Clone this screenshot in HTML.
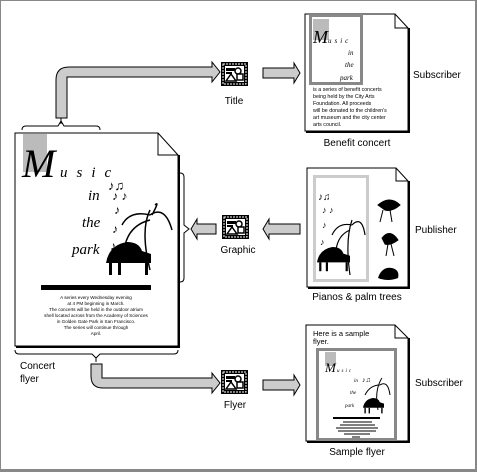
<!DOCTYPE html>
<html><head><meta charset="utf-8"><style>
html,body{margin:0;padding:0;background:#fff}
svg{display:block}
text{font-family:"Liberation Sans",sans-serif;fill:#000}
text.s{font-family:"Liberation Serif",serif;font-style:italic}
</style></head><body>
<svg width="477" height="472" viewBox="0 0 477 472" xmlns="http://www.w3.org/2000/svg">
<defs>
<g id="icon">
<rect x="0" y="0" width="27" height="24" fill="#000"/>
<rect x="2" y="2" width="23" height="20" fill="none" stroke="#fff" stroke-width="1" stroke-dasharray="2 1"/>
<rect x="4" y="4" width="19" height="16" fill="#fff"/>
<rect x="5" y="6" width="9" height="3" fill="#000"/>
<rect x="5" y="10" width="6" height="2" fill="#000"/>
<path d="M5 19 L10 12 L15 19 Z" fill="none" stroke="#000" stroke-width="1.5"/>
<circle cx="17" cy="9" r="3" fill="#fff" stroke="#000" stroke-width="1.5"/>
<rect x="16" y="12" width="6" height="6" fill="#fff" stroke="#000" stroke-width="1.5"/>
</g>
<g id="piano">
<path d="M0 14 Q2 2 14 0 Q22 0 24 6 L30 8 L30 14 Z" fill="#000"/>
<rect x="2" y="14" width="2" height="8" fill="#000"/><rect x="8" y="14" width="2" height="8" fill="#000"/><rect x="26" y="14" width="2" height="8" fill="#000"/>
</g>
</defs>
<rect x="0.5" y="0.5" width="475" height="469" fill="#fff" stroke="#888" stroke-width="1"/>
<line x1="476" y1="0" x2="476" y2="472" stroke="#888" stroke-width="2"/>
<line x1="0" y1="471" x2="477" y2="471" stroke="#888" stroke-width="2"/>

<!-- top arrow -->
<path d="M56 118 L56 80 Q56 67 69 67 L212 67 L212 62 L220 72 L212 82 L212 77 L67 77 L67 118 Z" fill="#ccc" stroke="#000" stroke-width="1"/>
<path d="M22 130 Q22 126 26 126 L58 126 L61 121 L64 126 L96 126 Q100 126 100 130" fill="none" stroke="#000" stroke-width="1"/>
<line x1="61" y1="118" x2="61" y2="124" stroke="#000"/>

<!-- main doc -->
<path d="M15 133 L158 133 L178 155 L178 346 L15 346 Z" fill="#fff" stroke="#000" stroke-width="1"/>
<line x1="179" y1="155" x2="179" y2="347" stroke="#000" stroke-width="2"/>
<line x1="16" y1="347" x2="180" y2="347" stroke="#000" stroke-width="2"/>
<path d="M158 133 L158 155 L178 155" fill="none" stroke="#000"/>
<rect x="23" y="134" width="24" height="38" fill="#bbb"/>
<text class="s" x="22" y="177" font-size="40">M</text>
<text class="s" x="60" y="177" font-size="15" letter-spacing="9">usic</text>
<text class="s" x="88" y="200" font-size="15">in</text>
<text class="s" x="82" y="227" font-size="15">the</text>
<text class="s" x="72" y="254" font-size="15">park</text>
<text x="108" y="190" font-size="13">♪♫</text><text x="112" y="200" font-size="12">♪ ♪</text><text x="114" y="214" font-size="12">♪</text><text x="112" y="233" font-size="12">♪</text><text x="110" y="250" font-size="12">♪</text>
<path d="M150 270 Q140 230 150 210 M150 215 Q130 210 122 225 M150 215 Q165 205 172 230 M150 220 Q130 225 125 245 M152 215 Q160 200 155 205" fill="none" stroke="#000" stroke-width="1.5"/>
<use href="#piano" transform="translate(106 242) scale(1.5)"/>
<rect x="41" y="285" width="110" height="5" fill="#000"/>
<g font-size="4.6" text-anchor="middle">
<text x="96" y="299">A series every Wednesday evening</text>
<text x="96" y="305">at 4 PM beginning in March.</text>
<text x="96" y="311">The concerts will be held in the outdoor atrium</text>
<text x="96" y="317">shell located across from the Academy of Sciences</text>
<text x="96" y="323">in Golden Gate Park in San Francisco.</text>
<text x="96" y="329">The series will continue through</text>
<text x="96" y="335">April.</text>
</g>
<path d="M15 350 Q15 354 19 354 L92 354 L96 358 L100 354 L174 354 Q178 354 178 350" fill="none" stroke="#000"/>
<line x1="96" y1="358" x2="96" y2="362" stroke="#000"/>
<text x="20" y="369" font-size="10">Concert</text>
<text x="20" y="382" font-size="10">flyer</text>

<!-- right bracket -->
<path d="M180 173 Q184 173 184 177 L184 225 L189 229 L184 233 L184 278 Q184 282 180 282" fill="none" stroke="#000"/>

<!-- bottom arrow -->
<path d="M91 364 L91 376 Q91 388 103 388 L212 388 L212 393 L220 383 L212 373 L212 378 L102 378 L102 364 Z" fill="#ccc" stroke="#000"/>

<!-- icons -->
<use href="#icon" transform="translate(221 62)"/>
<text x="234" y="104" font-size="10" text-anchor="middle">Title</text>
<use href="#icon" transform="translate(222 215)"/>
<text x="238" y="253" font-size="10" text-anchor="middle">Graphic</text>
<use href="#icon" transform="translate(221 370)"/>
<text x="235" y="408" font-size="10" text-anchor="middle">Flyer</text>

<!-- small arrows -->
<path d="M263 68 L294 68 L294 63 L300 73 L294 83 L294 78 L263 78 Z" fill="#ccc" stroke="#000"/>
<path d="M300 224 L269 224 L269 219 L263 229 L269 239 L269 234 L300 234 Z" fill="#ccc" stroke="#000"/>
<path d="M197 224 L216 224 L216 234 L197 234 L197 239 L191 229 L197 219 Z" fill="#ccc" stroke="#000"/>
<path d="M263 380 L294 380 L294 375 L300 385 L294 395 L294 390 L263 390 Z" fill="#ccc" stroke="#000"/>

<!-- benefit doc -->
<path d="M305 14 L395 14 L408 28 L408 131 L305 131 Z" fill="#fff" stroke="#000"/>
<line x1="409" y1="28" x2="409" y2="132" stroke="#000" stroke-width="2"/><line x1="306" y1="132" x2="410" y2="132" stroke="#000" stroke-width="2"/>
<path d="M395 14 L395 28 L408 28" fill="none" stroke="#000"/>
<rect x="310.5" y="15.5" width="51" height="68" fill="#fff" stroke="#888" stroke-width="3"/>
<rect x="313" y="19" width="16" height="21" fill="#bbb"/>
<text class="s" x="313" y="43" font-size="18">M</text>
<text class="s" x="328" y="43" font-size="7" letter-spacing="3">usic</text>
<text class="s" x="348" y="55" font-size="7">in</text>
<text class="s" x="345" y="67" font-size="7">the</text>
<text class="s" x="340" y="80" font-size="7">park</text>
<g font-size="5.3"><text x="313" y="91">is a series of benefit concerts</text><text x="313" y="98">being held by the City Arts</text><text x="313" y="105">Foundation. All proceeds</text><text x="313" y="112">will be donated to the children's</text><text x="313" y="119">art museum and the city center</text><text x="313" y="126">arts council.</text></g>
<text x="357" y="146" font-size="10" text-anchor="middle">Benefit concert</text>
<text x="413" y="78" font-size="10">Subscriber</text>

<!-- publisher doc -->
<path d="M307 168 L396 168 L408 181 L408 287 L307 287 Z" fill="#fff" stroke="#000"/>
<line x1="409" y1="181" x2="409" y2="288" stroke="#000" stroke-width="2"/><line x1="308" y1="288" x2="410" y2="288" stroke="#000" stroke-width="2"/>
<path d="M396 168 L396 181 L408 181" fill="none" stroke="#000"/>
<rect x="314.5" y="176.5" width="53" height="104" fill="none" stroke="#ccc" stroke-width="3"/>
<text x="318" y="200" font-size="10">♪♫</text><text x="322" y="213" font-size="9">♪ ♪</text><text x="322" y="228" font-size="9">♪</text><text x="320" y="245" font-size="9">♪</text><text x="322" y="256" font-size="9">♪</text>
<path d="M350 275 Q345 240 352 220 M352 225 Q338 222 332 235 M352 225 Q362 215 365 235 M350 230 Q338 235 336 250" fill="none" stroke="#000" stroke-width="1.2"/>
<use href="#piano" transform="translate(317 247) scale(1.1)"/>
<path d="M378 205 Q390 195 400 205 Q392 212 385 210 Z M383 210 L380 222 M390 210 L392 222" fill="#000" stroke="#000"/>
<path d="M382 238 Q390 228 398 240 Q390 246 385 244 Z M388 244 L386 256 M391 244 L394 256" fill="#000" stroke="#000"/>
<path d="M378 278 Q382 266 392 268 Q400 270 398 278 Q388 282 378 278 Z" fill="#000"/>
<text x="357" y="300" font-size="10" text-anchor="middle">Pianos &amp; palm trees</text>
<text x="415" y="233" font-size="10">Publisher</text>

<!-- sample doc -->
<path d="M306 325 L395 325 L408 338 L408 441 L306 441 Z" fill="#fff" stroke="#000"/>
<line x1="409" y1="338" x2="409" y2="442" stroke="#000" stroke-width="2"/><line x1="307" y1="442" x2="410" y2="442" stroke="#000" stroke-width="2"/>
<path d="M395 325 L395 338 L408 338" fill="none" stroke="#000"/>
<text x="313" y="336" font-size="7.5">Here is a sample</text>
<text x="313" y="344" font-size="7.5">flyer.</text>
<rect x="317.5" y="349.5" width="78" height="90" fill="#fff" stroke="#888" stroke-width="3"/>
<rect x="325" y="352" width="11" height="14" fill="#bbb"/>
<text class="s" x="325" y="372" font-size="13">M</text>
<text class="s" x="337" y="372" font-size="5" letter-spacing="2">usic</text>
<text class="s" x="354" y="382" font-size="5">in</text>
<text class="s" x="350" y="394" font-size="5">the</text>
<text class="s" x="345" y="407" font-size="5">park</text>
<text x="362" y="382" font-size="7">♪♫</text>
<path d="M378 410 Q374 390 382 378 M380 385 Q370 385 365 395 M380 385 Q388 380 390 395" fill="none" stroke="#000"/>
<use href="#piano" transform="translate(363 398) scale(0.7)"/>
<rect x="333" y="417" width="47" height="2" fill="#000"/>
<g stroke="#000" stroke-width="1"><line x1="343" y1="422" x2="372" y2="422"/><line x1="340" y1="425" x2="375" y2="425"/><line x1="336" y1="428" x2="378" y2="428"/><line x1="338" y1="431" x2="376" y2="431"/><line x1="344" y1="434" x2="370" y2="434"/><line x1="352" y1="437" x2="360" y2="437"/></g>
<text x="357" y="455" font-size="10" text-anchor="middle">Sample flyer</text>
<text x="415" y="386" font-size="10">Subscriber</text>
</svg>
</body></html>
